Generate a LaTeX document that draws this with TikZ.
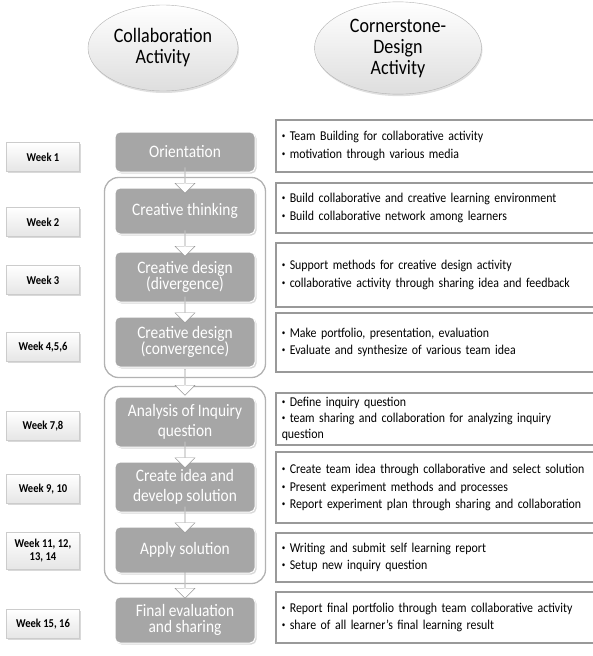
\documentclass[tikz,border=0pt]{standalone}
\usepackage{fontspec}
\setmainfont{Carlito}[FakeStretch=0.88]
\usetikzlibrary{positioning,calc,fit,backgrounds,shapes.geometric,shapes.arrows,shadows}

\newcommand\bul{\raisebox{0.3ex}{\fontsize{8}{8}\selectfont •}\ }

\begin{document}
\begin{tikzpicture}[
  x=1pt, y=-1pt,
  font=\fontsize{13.5}{17.5}\selectfont,
  oval/.style={ellipse, draw=black!30, thin, top color=white, bottom color=black!13,
               align=center, font=\fontsize{20.5}{21}\selectfont,
               drop shadow={opacity=0.25, shadow xshift=1pt, shadow yshift=-2pt}},
  weekbox/.style={draw=black!20, top color=white, bottom color=black!10,
                  minimum width=73pt, minimum height=29pt, align=center,
                  font=\fontsize{12}{13}\selectfont\bfseries,
                  drop shadow={opacity=0.3, shadow xshift=1.5pt, shadow yshift=-1.5pt}},
  stage/.style={draw=white, line width=1pt, rounded corners=5pt, fill=black!35,
                text=white, minimum width=140pt, align=center,
                font=\fontsize{17.5}{20}\selectfont,
                drop shadow={opacity=0.3, shadow xshift=1.5pt, shadow yshift=-1.5pt}},
  tight/.style={font=\fontsize{17.5}{16.5}\selectfont},
  grp/.style={draw=black!30, line width=1.3pt, rounded corners=14pt, inner sep=10pt},
  blk/.style={single arrow, draw=black!40, fill=white, shape border rotate=270,
              minimum height=26pt, minimum width=20pt, single arrow head extend=4pt,
              inner sep=0pt},
  note/.style={draw=black!40, line width=1.5pt, fill=white, anchor=west,
               align=left, inner xsep=6pt, text width=318pt}
]
\useasboundingbox (0,0) rectangle (593,656);
\clip (0,0) rectangle (593,656);

% ---------- judul ----------
\node[oval, minimum width=150pt, minimum height=86pt] (collab) at (163,48)
      {Collaboration\\Activity};
\node[oval, minimum width=167pt, minimum height=88pt] (corner) at (398,48)
      {Cornerstone-\\Design\\Activity};

% ---------- minggu ----------
\node[weekbox] (w1) at (43,157) {Week 1};
\node[weekbox] (w2) at (43,222) {Week 2};
\node[weekbox] (w3) at (43,280) {Week 3};
\node[weekbox] (w4) at (43,347) {Week 4,5,6};
\node[weekbox] (w5) at (43,426) {Week 7,8};
\node[weekbox] (w6) at (43,489) {Week 9, 10};
\node[weekbox, minimum height=37pt] (w7) at (43,551) {Week 11, 12,\\13, 14};
\node[weekbox] (w8) at (43,624) {Week 15, 16};

% ---------- tahap kolaborasi ----------
\node[stage, minimum height=40pt] (orient) at (185,152) {Orientation};
\node[stage, minimum height=46pt] (think)  at (185,211) {Creative thinking};
\node[stage, tight, minimum height=50pt] (div)  at (185,277) {Creative design\\(divergence)};
\node[stage, tight, minimum height=50pt] (conv) at (185,342) {Creative design\\(convergence)};
\node[stage, minimum height=50pt] (anal)   at (185,422) {Analysis of Inquiry\\question};
\node[stage, minimum height=50pt] (idea)   at (185,487) {Create idea and\\develop solution};
\node[stage, minimum height=46pt] (apply)  at (185,550) {Apply solution};
\node[stage, tight, minimum height=46pt] (final) at (185,620) {Final evaluation\\and sharing};

% ---------- kelompok (rounded) ----------
\begin{scope}[on background layer]
  \node[grp, fit=(think)(conv)] (g1) {};
  \node[grp, fit=(anal)(apply)] (g2) {};
\end{scope}

% ---------- panah blok ----------
\node[blk] (a1) at ($(orient.south)!0.5!(think.north)$) {};
\node[blk] (a2) at ($(think.south)!0.5!(div.north)$)    {};
\node[blk] (a3) at ($(div.south)!0.5!(conv.north)$)     {};
\node[blk] (a4) at ($(conv.south)!0.5!(anal.north)$)    {};
\node[blk] (a5) at ($(anal.south)!0.5!(idea.north)$)    {};
\node[blk] (a6) at ($(idea.south)!0.5!(apply.north)$)   {};
\node[blk] (a7) at ($(apply.south)!0.5!(final.north)$)  {};

% ---------- kegiatan cornerstone design ----------
\node[note, minimum height=52pt] (t1) at (275,146)
  {\bul Team Building for collaborative activity\\
   \bul motivation through various media};
\node[note, minimum height=50pt] (t2) at (275,208)
  {\bul Build collaborative and creative learning environment\\
   \bul Build collaborative network among learners};
\node[note, minimum height=64pt] (t3) at (275,275)
  {\bul Support methods for creative design activity\\
   \bul collaborative activity through sharing idea and feedback};
\node[note, minimum height=59pt] (t4) at (275,342.5)
  {\bul Make portfolio, presentation, evaluation\\
   \bul Evaluate and synthesize of various team idea};
\node[note, minimum height=52pt, font=\fontsize{13.5}{16}\selectfont] (t5) at (275,419)
  {\bul Define inquiry question\\
   \bul team sharing and collaboration for analyzing inquiry\\
   question};
\node[note, minimum height=71pt] (t6) at (275,487.5)
  {\bul Create team idea through collaborative and select solution\\
   \bul Present experiment methods and processes\\
   \bul Report experiment plan through sharing and collaboration};
\node[note, minimum height=49pt] (t7) at (275,557.5)
  {\bul Writing and submit self learning report\\
   \bul Setup new inquiry question};
\node[note, minimum height=51pt] (t8) at (275,617.5)
  {\bul Report final portfolio through team collaborative activity\\
   \bul share of all learner's final learning result};

\end{tikzpicture}
\end{document}
